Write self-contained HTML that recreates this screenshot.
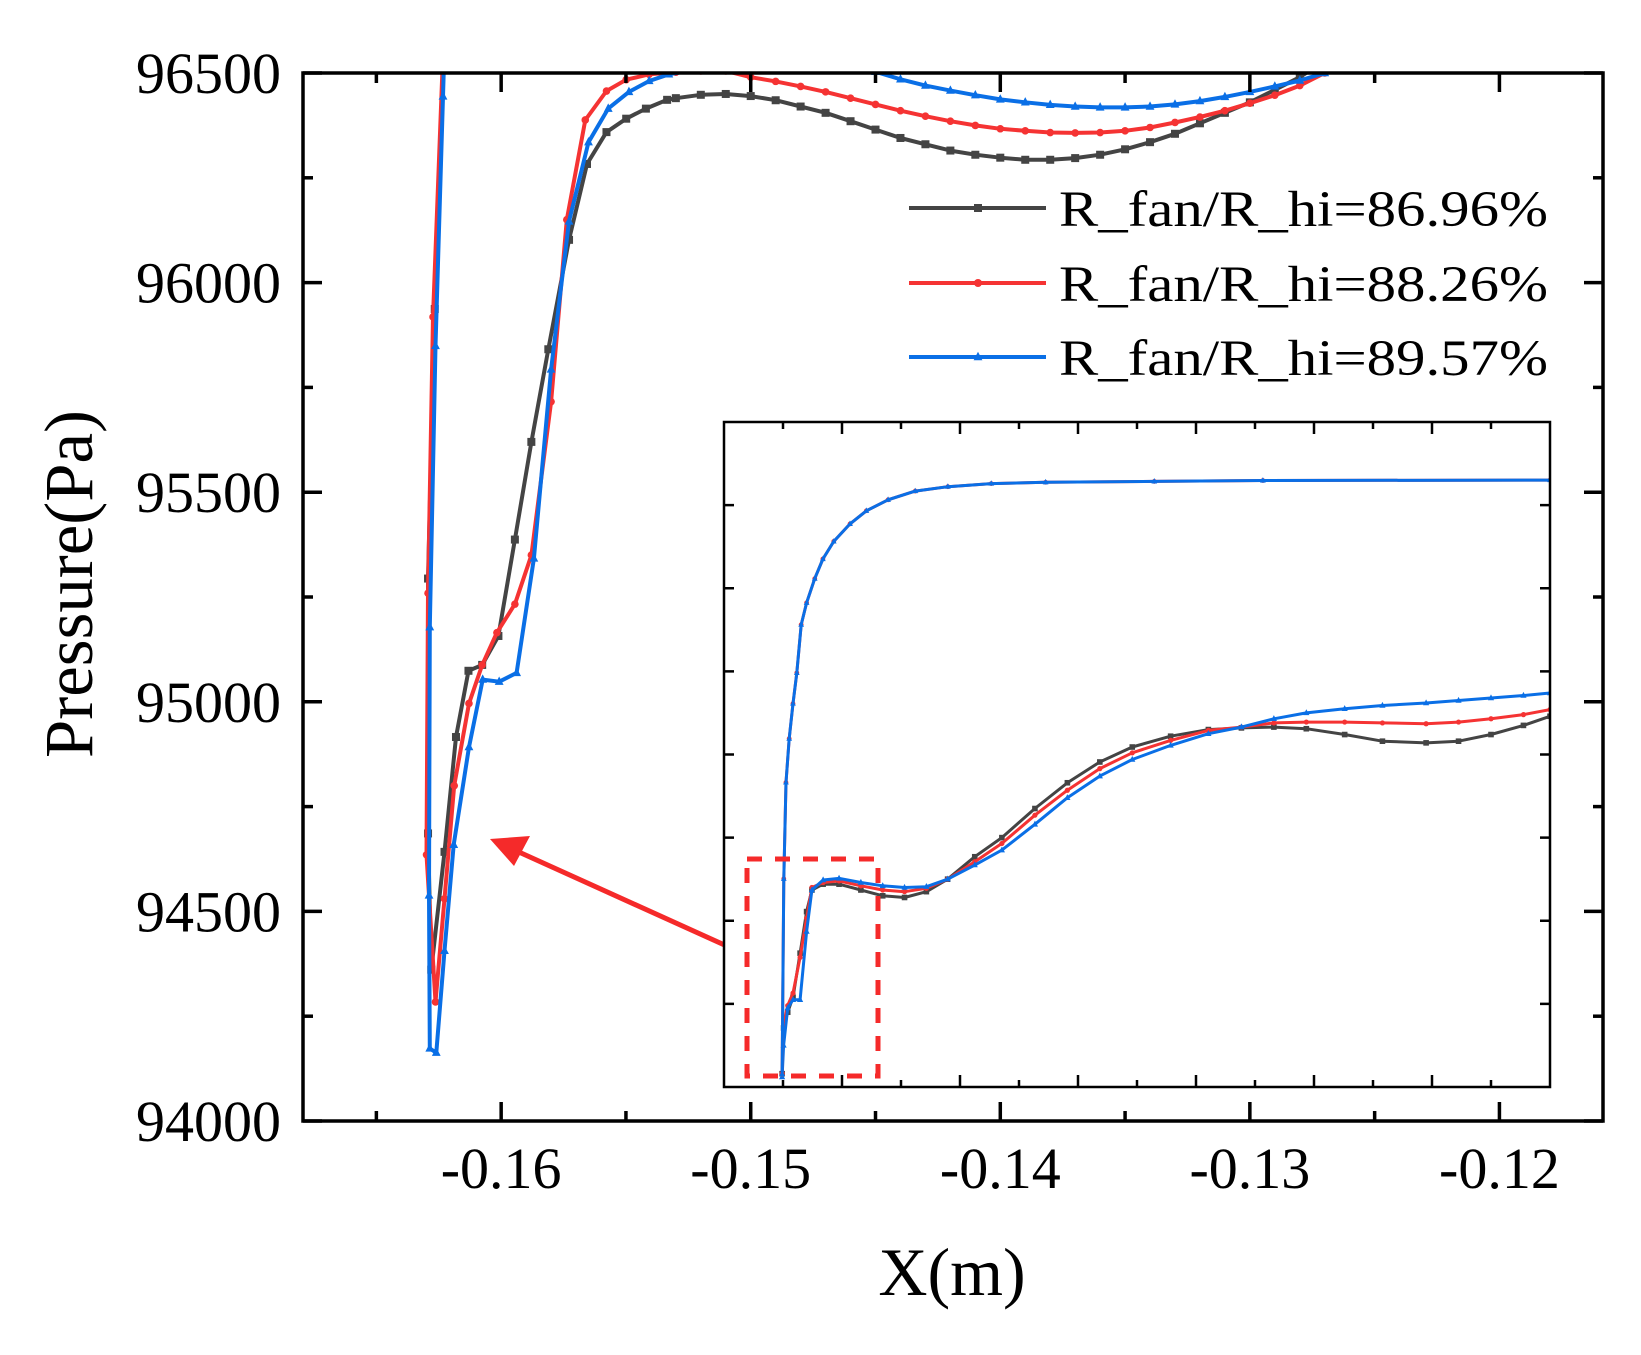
<!DOCTYPE html>
<html><head><meta charset="utf-8"><style>
html,body{margin:0;padding:0;background:#fff;}
svg{display:block;font-family:"Liberation Serif","Times New Roman",serif;}
</style></head><body>
<svg id="chart" width="1641" height="1355" viewBox="0 0 1641 1355" xmlns="http://www.w3.org/2000/svg">
<defs>
<clipPath id="mainclip"><rect x="303" y="73" width="1300" height="1048"/></clipPath>
<clipPath id="insetclip"><rect x="724" y="422" width="826" height="665"/></clipPath>
</defs>
<rect x="0" y="0" width="1641" height="1355" fill="#fff"/>
<g id="main-plot"></g>
<g id="inset-plot"></g>
<g id="axes"></g>
<g id="legend"></g>
<text x="952" y="1295" font-size="68" text-anchor="middle">X(m)</text>
<text x="0" y="0" font-size="69" text-anchor="middle" textLength="348" lengthAdjust="spacingAndGlyphs" transform="translate(92,584) rotate(-90)">Pressure(Pa)</text>
</svg>
<script>
// ---------- main chart data ----------
const xTicks = [-0.16, -0.15, -0.14, -0.13, -0.12];
const xTickLabels = ["-0.16", "-0.15", "-0.14", "-0.13", "-0.12"];
const yTicks = [94000, 94500, 95000, 95500, 96000, 96500];
const yTickLabels = ["94000", "94500", "95000", "95500", "96000", "96500"];
const seriesNames = ["R_fan/R_hi=86.96%", "R_fan/R_hi=88.26%", "R_fan/R_hi=89.57%"];

const blackX = [-0.1621,-0.16266,-0.16293,-0.16293,-0.16280,-0.16227,-0.16181,-0.16131,-0.16076,-0.16011,-0.15945,-0.15879,-0.15811,-0.15728,-0.15656,-0.15578,-0.15499,-0.15420,-0.15335,-0.153,-0.152,-0.151,-0.150,-0.149,-0.148,-0.147,-0.146,-0.145,-0.144,-0.143,-0.142,-0.141,-0.140,-0.139,-0.138,-0.137,-0.136,-0.135,-0.134,-0.133,-0.132,-0.131,-0.130,-0.129,-0.128,-0.1275];
const blackY = [96900,95937,95294,94686,94361,94642,94916,95074,95088,95157,95387,95620,95841,96102,96283,96359,96391,96415,96436,96440,96448,96450,96445,96435,96420,96405,96385,96365,96345,96330,96315,96305,96298,96293,96293,96297,96305,96318,96335,96355,96380,96405,96430,96460,96490,96510];

const redX = [-0.1621,-0.16273,-0.16293,-0.16299,-0.16263,-0.16227,-0.16188,-0.16129,-0.16076,-0.16017,-0.15945,-0.15879,-0.15800,-0.15737,-0.15663,-0.15578,-0.15499,-0.15407,-0.153,-0.152,-0.151,-0.150,-0.149,-0.148,-0.147,-0.146,-0.145,-0.144,-0.143,-0.142,-0.141,-0.140,-0.139,-0.138,-0.137,-0.136,-0.135,-0.134,-0.133,-0.132,-0.131,-0.130,-0.129,-0.128,-0.127];
const redY = [96900,95918,95259,94635,94284,94530,94800,94996,95088,95165,95233,95350,95716,96150,96388,96457,96484,96497,96502,96505,96505,96490,96480,96468,96455,96440,96425,96410,96397,96385,96375,96367,96362,96358,96357,96358,96362,96370,96382,96395,96410,96428,96447,96470,96500];

const blueX = [-0.1621,-0.16233,-0.16263,-0.16286,-0.16289,-0.16286,-0.16260,-0.16227,-0.16190,-0.16129,-0.16074,-0.16008,-0.15938,-0.15869,-0.15800,-0.15728,-0.15650,-0.15571,-0.15488,-0.15407,-0.15328,-0.152,-0.151,-0.150,-0.149,-0.148,-0.147,-0.146,-0.145,-0.144,-0.143,-0.142,-0.141,-0.140,-0.139,-0.138,-0.137,-0.136,-0.135,-0.134,-0.133,-0.132,-0.131,-0.130,-0.129,-0.128,-0.127];
const blueY = [96900,96444,95849,95178,94538,94173,94163,94406,94659,94892,95053,95048,95069,95342,95793,96146,96335,96415,96455,96481,96497,96510,96515,96518,96520,96518,96515,96510,96503,96485,96470,96458,96447,96437,96430,96424,96420,96418,96418,96420,96425,96433,96443,96455,96468,96482,96500];

// ---------- inset data (inset axis units) ----------
const insetUpperU = [0.985,1.013,1.050,1.105,1.169,1.234,1.308,1.400,1.538,1.676,1.860,2.136,2.413,2.781,3.241,3.794,4.530,5.451,7.293,9.134,14];
const insetUpperV = [0.158,2.504,3.664,4.191,4.613,4.982,5.562,5.825,6.115,6.352,6.563,6.774,6.932,7.064,7.169,7.222,7.259,7.275,7.285,7.296,7.301];
const insetLowerU = [0.985,1.01,1.08,1.17,1.29,1.40,1.49,1.68,1.95,2.32,2.69,3.06,3.43,3.79,4.25,4.71,5.27,5.82,6.37,6.92,7.57,8.21,8.77,9.32,9.87,10.52,11.16,11.90,12.45,13.00,13.55,14.0];
const insetBlackV = [0.16,0.71,0.90,1.08,1.61,2.11,2.37,2.44,2.44,2.37,2.30,2.28,2.35,2.50,2.77,3.00,3.35,3.66,3.91,4.09,4.22,4.30,4.32,4.33,4.31,4.24,4.16,4.14,4.16,4.24,4.35,4.46];
const insetRedV = [0.16,0.76,0.98,1.13,1.56,2.03,2.40,2.46,2.48,2.42,2.37,2.35,2.39,2.50,2.71,2.93,3.27,3.57,3.83,4.02,4.17,4.29,4.33,4.38,4.39,4.39,4.38,4.37,4.39,4.43,4.48,4.54];
const insetBlueV = [0.12,0.50,0.95,1.05,1.05,1.87,2.37,2.49,2.51,2.46,2.42,2.40,2.41,2.50,2.67,2.85,3.16,3.48,3.74,3.94,4.11,4.25,4.33,4.43,4.50,4.55,4.59,4.62,4.65,4.68,4.71,4.74];

const NS = "http://www.w3.org/2000/svg";
const L=303,R=1603,T=73,B=1121;
const X0=-0.16794, X1=-0.11585, Y0=94000, Y1=96500;
function sx(v){return L+(v-X0)/(X1-X0)*(R-L);}
function sy(v){return B-(v-Y0)/(Y1-Y0)*(B-T);}
const IL=724,IR=1550,IT=422,IB=1087;
function ix(u){return IL+u/14*(IR-IL);}
function iy(v){return IB-v/8*(IB-IT);}

function mk(tag,attrs,parent){const e=document.createElementNS(NS,tag);for(const k in attrs)e.setAttribute(k,attrs[k]);parent.appendChild(e);return e;}

const COLORS=["#444444","#f53333","#0a6fe6"];
function marker(g,shape,x,y,s,color){
  let m;
  if(shape===0){m=mk('rect',{x:x-s,y:y-s,width:2*s,height:2*s,fill:color},g);}
  else if(shape===1){m=mk('circle',{cx:x,cy:y,r:s,fill:color},g);}
  else {m=mk('polygon',{points:`${x},${y-s*1.3} ${x-s*1.1},${y+s*0.8} ${x+s*1.1},${y+s*0.8}`,fill:color},g);}
  
  
}
function series(parent,xs,ys,fx,fy,color,shape,w,ms,name,step){
  const g=mk('g',{},parent);
  
  
  const pts=xs.map((v,i)=>fx(v).toFixed(1)+','+fy(ys[i]).toFixed(1)).join(' ');
  const pl=mk('polyline',{points:pts,fill:'none',stroke:color,'stroke-width':w,'stroke-linejoin':'round'},g);
  
  
  for(let i=0;i<xs.length;i+=(step||1)) marker(g,shape,fx(xs[i]),fy(ys[i]),ms,color);
}

// main series
const mp=document.getElementById('main-plot');
const mg=mk('g',{'clip-path':'url(#mainclip)'},mp);
series(mg,blackX,blackY,sx,sy,COLORS[0],0,4,4,'series-86-96');
series(mg,redX,redY,sx,sy,COLORS[1],1,4,3.8,'series-88-26');
series(mg,blueX,blueY,sx,sy,COLORS[2],2,4,4,'series-89-57');

// arrow
const ar=mk('line',{x1:740,y1:952,x2:510,y2:848,stroke:'#f52a2a','stroke-width':5},mp);


const ah=mk('polygon',{points:'490,839 530,836 514,866',fill:'#f52a2a'},mp);



// inset
const ip=document.getElementById('inset-plot');
const ibg=mk('rect',{x:IL,y:IT,width:IR-IL,height:IB-IT,fill:'#fff'},ip);


const ig=mk('g',{'clip-path':'url(#insetclip)'},ip);
series(ig,insetLowerU,insetBlackV,ix,iy,COLORS[0],0,3,2.8,'inset-lower-86-96');
series(ig,insetLowerU,insetRedV,ix,iy,COLORS[1],1,3,2.6,'inset-lower-88-26');
series(ig,insetLowerU,insetBlueV,ix,iy,COLORS[2],2,3,2.8,'inset-lower-89-57');
series(ig,insetUpperU,insetUpperV,ix,iy,COLORS[1],1,3,2.4,'inset-upper-88-26');
series(ig,insetUpperU,insetUpperV,ix,iy,COLORS[2],2,3,2.6,'inset-upper-89-57');
const dr=mk('rect',{x:747,y:859,width:131,height:217,fill:'none',stroke:'#f52a2a','stroke-width':5,'stroke-dasharray':'15 13'},ip);


const ib=mk('rect',{x:IL,y:IT,width:IR-IL,height:IB-IT,fill:'none',stroke:'#000','stroke-width':2.5},ip);


for(let u=1;u<=13;u++){
  const len=(u%2===0)?12:7;
  let t=mk('line',{x1:ix(u),y1:IB,x2:ix(u),y2:IB-len,stroke:'#000','stroke-width':2.5},ip);
  
  t=mk('line',{x1:ix(u),y1:IT,x2:ix(u),y2:IT+len,stroke:'#000','stroke-width':2.5},ip);
  
}
for(let v=1;v<=7;v++){
  let t=mk('line',{x1:IR,y1:iy(v),x2:IR-10,y2:iy(v),stroke:'#000','stroke-width':2.5},ip);
  
  t=mk('line',{x1:IL,y1:iy(v),x2:IL+10,y2:iy(v),stroke:'#000','stroke-width':2.5},ip);
  
}

// axes
const ax=document.getElementById('axes');
const fr=mk('rect',{x:L,y:T,width:R-L,height:B-T,fill:'none',stroke:'#000','stroke-width':3.5},ax);


xTicks.forEach((v,i)=>{
  const x=sx(v);
  let t=mk('line',{x1:x,y1:B,x2:x,y2:B-19,stroke:'#000','stroke-width':3.5},ax);
  
  t=mk('line',{x1:x,y1:T,x2:x,y2:T+19,stroke:'#000','stroke-width':3.5},ax);
  
  const lb=mk('text',{x:x,y:1188,'font-size':58,'text-anchor':'middle'},ax);
  lb.textContent=xTickLabels[i];
  
});
for(let k=0;k<5;k++){
  const x=sx(xTicks[0]-0.005+k*0.01);
  let t=mk('line',{x1:x,y1:B,x2:x,y2:B-10,stroke:'#000','stroke-width':3.5},ax);
  
  t=mk('line',{x1:x,y1:T,x2:x,y2:T+10,stroke:'#000','stroke-width':3.5},ax);
  
}
yTicks.forEach((v,i)=>{
  const y=sy(v);
  let t=mk('line',{x1:L,y1:y,x2:L+19,y2:y,stroke:'#000','stroke-width':3.5},ax);
  
  t=mk('line',{x1:R,y1:y,x2:R-19,y2:y,stroke:'#000','stroke-width':3.5},ax);
  
  const lb=mk('text',{x:281,y:y+20,'font-size':58,'text-anchor':'end'},ax);
  lb.textContent=yTickLabels[i];
  
  if(i<yTicks.length-1){
    const ym=sy(v+250);
    t=mk('line',{x1:L,y1:ym,x2:L+10,y2:ym,stroke:'#000','stroke-width':3.5},ax);
    
    t=mk('line',{x1:R,y1:ym,x2:R-10,y2:ym,stroke:'#000','stroke-width':3.5},ax);
    
  }
});

// legend
const lg=document.getElementById('legend');
const legY=[208,283,357];
seriesNames.forEach((n,i)=>{
  const g=mk('g',{},lg);
  
  
  mk('line',{x1:909,y1:legY[i],x2:1046,y2:legY[i],stroke:COLORS[i],'stroke-width':4},g);
  marker(g,i,978,legY[i],4,COLORS[i]);
  const t=mk('text',{x:1059,y:legY[i]+18,'font-size':51,textLength:489,lengthAdjust:'spacingAndGlyphs'},g);
  t.textContent=n;
  
  
});
</script>
</body></html>
